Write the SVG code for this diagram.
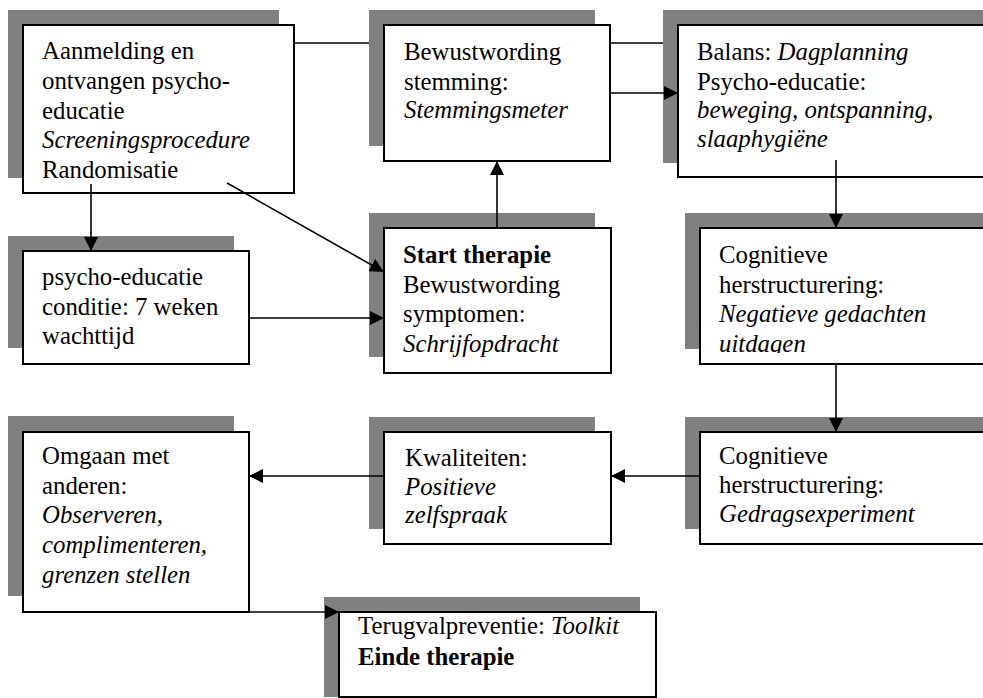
<svg xmlns="http://www.w3.org/2000/svg" width="983" height="698" viewBox="0 0 983 698">
<style>
.sh{fill:#808080;stroke:none}
.bx{fill:#fff;stroke:#000;stroke-width:2}
.t{font-family:"Liberation Serif","Times New Roman",serif;font-size:24.8px;fill:#000}
.i{font-style:italic}
.b{font-weight:bold}
.c{fill:none;stroke:#000;stroke-width:1.6}
.a{marker-end:url(#ah)}
</style>
<defs>
<marker id="ah" markerUnits="userSpaceOnUse" markerWidth="14" markerHeight="14" refX="14" refY="7" orient="auto">
<path d="M0,0 L14,7 L0,14 z" fill="#000"/>
</marker>
<clipPath id="clip4"><rect x="700" y="228" width="290" height="125"/></clipPath>
</defs>
<rect width="983" height="698" fill="#fff"/>
<g id="n1">
<rect class="sh" x="8" y="10" width="271" height="168"/>
<rect class="bx" x="23" y="25" width="271" height="168"/>
<text class="t" x="42" y="59">Aanmelding en</text>
<text class="t" x="42" y="89">ontvangen psycho-</text>
<text class="t" x="42" y="119">educatie</text>
<text class="t i" x="42" y="148">Screeningsprocedure</text>
<text class="t" x="42" y="178">Randomisatie</text>
</g>
<g id="n2">
<rect class="sh" x="369" y="10" width="226" height="136"/>
<rect class="bx" x="384" y="25" width="226" height="136"/>
<text class="t" x="404" y="60">Bewustwording</text>
<text class="t" x="404" y="90">stemming:</text>
<text class="t i" x="404" y="118">Stemmingsmeter</text>
</g>
<g id="n3">
<rect class="sh" x="663" y="10" width="330" height="153"/>
<rect class="bx" x="678" y="25" width="330" height="152"/>
<text class="t" x="697" y="60">Balans: <tspan class="i">Dagplanning</tspan></text>
<text class="t" x="697" y="90">Psycho-educatie:</text>
<text class="t i" x="697" y="118">beweging, ontspanning,</text>
<text class="t i" x="697" y="147">slaaphygiëne</text>
</g>
<g id="n4">
<rect class="sh" x="685" y="213" width="330" height="136"/>
<rect class="bx" x="700" y="228" width="330" height="136"/>
<g clip-path="url(#clip4)">
<text class="t" x="719" y="263">Cognitieve</text>
<text class="t" x="719" y="293">herstructurering:</text>
<text class="t i" x="719" y="322">Negatieve gedachten</text>
<text class="t i" x="719" y="352">uitdagen</text>
</g>
</g>
<g id="n5">
<rect class="sh" x="685" y="417" width="330" height="112"/>
<rect class="bx" x="700" y="432" width="330" height="112"/>
<text class="t" x="719" y="464">Cognitieve</text>
<text class="t" x="719" y="493">herstructurering:</text>
<text class="t i" x="719" y="522">Gedragsexperiment</text>
</g>
<g id="n6">
<rect class="sh" x="369" y="417" width="226" height="112"/>
<rect class="bx" x="384" y="432" width="227" height="112"/>
<text class="t" x="405" y="466">Kwaliteiten:</text>
<text class="t i" x="405" y="495">Positieve</text>
<text class="t i" x="405" y="523">zelfspraak</text>
</g>
<g id="n7">
<rect class="sh" x="8" y="416" width="226" height="180"/>
<rect class="bx" x="23" y="432" width="226" height="180"/>
<text class="t" x="42" y="464">Omgaan met</text>
<text class="t" x="42" y="494">anderen:</text>
<text class="t i" x="42" y="523">Observeren,</text>
<text class="t i" x="42" y="553">complimenteren,</text>
<text class="t i" x="42" y="583">grenzen stellen</text>
</g>
<g id="n8">
<rect class="sh" x="324" y="597" width="316" height="100"/>
<rect class="bx" x="339" y="612" width="317" height="85"/>
<text class="t" x="358" y="634">Terugvalpreventie: <tspan class="i">Toolkit</tspan></text>
<text class="t b" x="358" y="665">Einde therapie</text>
</g>
<g id="n9">
<rect class="sh" x="8" y="236" width="226" height="112"/>
<rect class="bx" x="23" y="251" width="226" height="113"/>
<text class="t" x="42" y="285">psycho-educatie</text>
<text class="t" x="42" y="315">conditie: 7 weken</text>
<text class="t" x="42" y="344">wachttijd</text>
</g>
<g id="n10">
<rect class="sh" x="369" y="213" width="226" height="144"/>
<rect class="bx" x="384" y="228" width="227" height="145"/>
<text class="t b" x="403" y="263">Start therapie</text>
<text class="t" x="403" y="293">Bewustwording</text>
<text class="t" x="403" y="322">symptomen:</text>
<text class="t i" x="403" y="352">Schrijfopdracht</text>
</g>
<g id="connectors">
<line class="c" x1="294" y1="43" x2="369" y2="43"/>
<line class="c" x1="610" y1="43" x2="663" y2="43"/>
<line class="c a" x1="610" y1="93" x2="678" y2="93"/>
<line class="c a" x1="836" y1="160" x2="836" y2="228"/>
<line class="c a" x1="836" y1="364" x2="836" y2="432"/>
<line class="c a" x1="700" y1="476" x2="611" y2="476"/>
<line class="c a" x1="384" y1="476" x2="249" y2="476"/>
<line class="c a" x1="249" y1="612" x2="339" y2="612"/>
<line class="c a" x1="91" y1="184" x2="91" y2="251"/>
<line class="c a" x1="249" y1="318" x2="384" y2="318"/>
<line class="c a" x1="227" y1="183" x2="384" y2="272"/>
<line class="c a" x1="497" y1="228" x2="497" y2="161"/>
</g>
</svg>
